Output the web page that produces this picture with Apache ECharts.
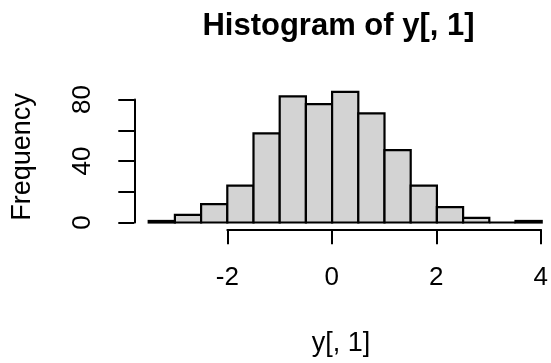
<!DOCTYPE html>
<html>
<head>
<meta charset="utf-8">
<script src="https://cdn.jsdelivr.net/npm/echarts@6/dist/echarts.min.js"></script>
<style>html,body{margin:0;padding:0;background:#fff;}#c{width:551px;height:363px;}</style>
</head>
<body>
<div id="c"></div>
<script>
// Histogram data (bins of width 0.5)
const binStarts = [-3.5, -3, -2.5, -2, -1.5, -1, -0.5, 0, 0.5, 1, 1.5, 2, 2.5, 3, 3.5];
const binEnds   = [-3, -2.5, -2, -1.5, -1, -0.5, 0, 0.5, 1, 1.5, 2, 2.5, 3, 3.5, 4];
const counts    = [1, 5, 12, 24, 58, 82, 77, 85, 71, 47, 24, 10, 3, 0, 1];
const xTicks = [-2, 0, 2, 4];
const yTicks = [0, 20, 40, 60, 80];
const yTickLabels = ['0', '', '40', '', '80'];
const titleText = 'Histogram of y[, 1]';
const xLabel = 'y[, 1]';
const yLabel = 'Frequency';

const FONT = 'Liberation Sans, Arial, sans-serif';
const chart = echarts.init(document.getElementById('c'), null, {renderer: 'canvas'});

const data = binStarts.map((s, i) => [s, binEnds[i], counts[i]]);

const option = {
  animation: false,
  backgroundColor: '#ffffff',
  grid: [
    {left: 148.7, width: 393, top: 84.1, height: 138.4},   // data
    {left: 227.3, width: 314.4, top: 84.1, height: 145.2}, // x axis display
    {left: 134.3, width: 393, top: 99.5, height: 123}      // y axis display
  ],
  xAxis: [
    {gridIndex: 0, type: 'value', min: binStarts[0], max: binEnds[binEnds.length - 1], show: false},
    {gridIndex: 1, type: 'value', min: xTicks[0], max: xTicks[xTicks.length - 1], interval: 2,
     position: 'bottom',
     axisLine: {show: true, lineStyle: {color: '#000', width: 2}},
     axisTick: {show: true, length: 15, lineStyle: {color: '#000', width: 2}},
     axisLabel: {show: true, margin: 36, color: '#000', fontSize: 26, fontFamily: FONT,
                 formatter: v => xTicks.includes(v) ? String(v) : ''},
     splitLine: {show: false}},
    {gridIndex: 2, type: 'value', show: false, min: 0, max: 1}
  ],
  yAxis: [
    {gridIndex: 0, type: 'value', min: 0, max: 90, show: false},
    {gridIndex: 1, type: 'value', show: false, min: 0, max: 1},
    {gridIndex: 2, type: 'value', min: yTicks[0], max: yTicks[yTicks.length - 1], interval: 20,
     position: 'left',
     axisLine: {show: true, lineStyle: {color: '#000', width: 2}},
     axisTick: {show: true, length: 16, lineStyle: {color: '#000', width: 2}},
     axisLabel: {show: true, rotate: 90, margin: 38, color: '#000', fontSize: 26, fontFamily: FONT,
                 formatter: v => { const i = yTicks.indexOf(v); return i >= 0 ? yTickLabels[i] : ''; }},
     splitLine: {show: false}}
  ],
  series: [{
    type: 'custom',
    xAxisIndex: 0, yAxisIndex: 0,
    data: data,
    encode: {x: [0, 1], y: 2},
    renderItem: function (params, api) {
      const x0 = api.value(0), x1 = api.value(1), c = api.value(2);
      const p0 = api.coord([x0, 0]);
      const p1 = api.coord([x1, c]);
      return {
        type: 'rect',
        shape: {x: p0[0], y: p1[1], width: p1[0] - p0[0], height: p0[1] - p1[1]},
        style: {fill: '#d3d3d3', stroke: '#000', lineWidth: 2.2}
      };
    }
  }],
  graphic: [
    {type: 'text', x: 338.5, y: 26, style: {text: titleText, fill: '#000', font: 'bold 31px ' + FONT,
      textAlign: 'center', textVerticalAlign: 'middle'}},
    {type: 'text', x: 341, y: 344, style: {text: xLabel, fill: '#000', font: '27px ' + FONT,
      textAlign: 'center', textVerticalAlign: 'middle'}},
    {type: 'text', x: 23, y: 157, rotation: Math.PI / 2, style: {text: yLabel, fill: '#000', font: '27px ' + FONT,
      textAlign: 'center', textVerticalAlign: 'middle'}}
  ]
};
chart.setOption(option);
</script>
</body>
</html>
